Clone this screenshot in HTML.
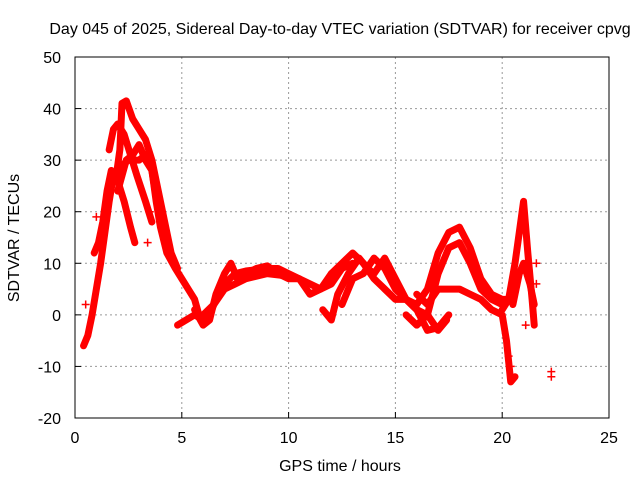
<!DOCTYPE html>
<html><head><meta charset="utf-8"><style>
body{margin:0;background:#fff}
svg text{font-family:"Liberation Sans",sans-serif;font-size:16px;fill:#000}
</style></head><body>
<svg id="chart" width="640" height="480" xmlns="http://www.w3.org/2000/svg">
<text x="340" y="34" text-anchor="middle">Day 045 of 2025, Sidereal Day-to-day VTEC variation (SDTVAR) for receiver cpvg</text>
<text x="340" y="471" text-anchor="middle">GPS time / hours</text>
<text transform="translate(19,238) rotate(-90)" text-anchor="middle">SDTVAR / TECUs</text>
<g id="grid"></g><g id="ticks"></g><g id="series"></g>
<rect x="75" y="57" width="534" height="361" fill="none" stroke="#000" stroke-width="1"/>
</svg>
<script>
const xTicks=[0,5,10,15,20,25];
const yTicks=[-20,-10,0,10,20,30,40,50];
const curveA=[[0.4,-6],[0.6,-4],[0.8,0],[1.0,5],[1.2,10],[1.4,16],[1.6,22],[1.8,27],[2.0,28],[2.2,29],[2.5,30],[3.0,30],[3.3,31],[3.6,28],[3.8,22],[4.0,17],[4.3,12],[4.7,9],[5.0,7],[5.3,5],[5.6,3],[5.8,0],[6.0,-1],[6.3,0],[6.6,3],[7.0,6],[7.5,8],[8.0,8.5],[9,9],[9.5,9],[10,8],[10.5,7],[11,6],[11.5,5],[12,6],[12.5,9],[13,10]];
const curveA2=[[0.9,12],[1.1,14],[1.3,18],[1.5,24],[1.7,28],[2.0,26],[2.3,22],[2.6,17],[2.8,14]];
const curveB=[[1.9,26],[2.1,32],[2.2,41],[2.4,41.5],[2.7,38],[3.0,36],[3.3,34],[3.6,30],[3.9,24],[4.2,18],[4.5,12],[4.8,9]];
const curveC=[[1.6,32],[1.8,36],[2.0,37],[2.3,35],[2.6,31],[2.9,27],[3.3,22],[3.6,18]];
const curveC2=[[2.0,24],[2.4,30],[2.7,31],[3.0,33],[3.3,30],[3.6,28],[3.9,20]];
const curveM=[[5.6,1],[6.0,-2],[6.3,-1],[6.6,4],[7.0,8],[7.3,10],[7.6,7],[8,8],[8.5,9],[9,9.5],[9.5,8],[10,7],[10.5,7],[11,4],[11.5,5],[12,8]];
const curveM2=[[6.0,0],[6.5,2],[7,5],[7.5,6],[8,7],[9,8],[10,7.5]];
const curveL=[[4.8,-2],[5.2,-1],[5.6,0],[6.0,-1]];
const curveD=[[11.6,1],[12,-1],[12.3,4],[12.8,8],[13.3,11],[13.7,9],[14,8],[14.5,11],[15,7],[15.5,3],[16,1],[16.5,0],[17,-3],[17.4,-1]];
const curveE=[[12.5,2],[13,7],[13.5,8],[14,11],[14.5,9],[15,5],[15.5,3],[16,1],[16.5,-3],[17,-2.5],[17.5,0]];
const curveF=[[12,8],[12.5,10],[13,12],[13.5,10],[14,7],[14.5,5],[15,3],[15.5,3],[16,2],[16.5,5],[17,12],[17.5,16],[18,17],[18.5,13],[19,7],[19.5,4],[20,3],[20.5,3]];
const curveG=[[15.5,0],[16,-2],[16.5,0],[17,8],[17.5,13],[18,14],[18.5,10],[19,5],[19.5,3],[20,2]];
const curveH=[[16,4],[16.5,2],[17,5],[17.5,5],[18,5],[18.5,4],[19,3],[19.5,1],[20,0],[20.2,-5],[20.4,-13],[20.6,-12]];
const curveI=[[20,1],[20.3,3],[20.6,10],[20.8,16],[21,22],[21.2,12],[21.4,3],[21.5,-2]];
const curveJ=[[20.5,2],[20.8,8],[21,10],[21.3,6],[21.5,2]];
const isolated=[[22.3,-12],[22.3,-11],[0.5,2],[1.0,19],[3.4,14],[3.5,20],[21.6,10],[21.6,6],[21.1,-2],[20.3,-8],[20.4,-10]];
const allCurves=[curveA,curveA2,curveB,curveC,curveC2,curveM,curveM2,curveL,curveD,curveE,curveF,curveG,curveH,curveI,curveJ];
const NS="http://www.w3.org/2000/svg";
const X=h=>75+h*534/25, Y=v=>57+(50-v)*361/70;
const grid=document.getElementById('grid'),ticks=document.getElementById('ticks'),ser=document.getElementById('series');
function mk(tag,attrs,parent){const e=document.createElementNS(NS,tag);for(const k in attrs)e.setAttribute(k,attrs[k]);parent.appendChild(e);return e;}
xTicks.forEach(t=>{
  if(t>0&&t<25){const g=mk('line',{x1:X(t),x2:X(t),y1:57,y2:418,stroke:'#999','stroke-dasharray':'2,3'},grid);
  
  }
  const tl=mk('text',{x:X(t),y:443,'text-anchor':'middle'},ticks);tl.textContent=t;
  
  
  mk('line',{x1:X(t),x2:X(t),y1:418,y2:412,stroke:'#000'},ticks);
});
yTicks.forEach(t=>{
  if(t>-20&&t<50){const g=mk('line',{x1:75,x2:609,y1:Y(t),y2:Y(t),stroke:'#999','stroke-dasharray':'2,3'},grid);
  
  }
  const tl=mk('text',{x:61,y:Y(t)+6,'text-anchor':'end'},ticks);tl.textContent=t;
  
  
  mk('line',{x1:75,x2:81,y1:Y(t),y2:Y(t),stroke:'#000'},ticks);
});
allCurves.forEach(c=>{
  const p=mk('polyline',{points:c.map(d=>X(d[0])+','+Y(d[1])).join(' '),fill:'none',stroke:'#f00','stroke-width':7,'stroke-linejoin':'round','stroke-linecap':'round'},ser);
  
  
});
isolated.forEach(d=>{
  const m=mk('path',{d:`M${X(d[0])-4},${Y(d[1])}h8M${X(d[0])},${Y(d[1])-4}v8`,stroke:'#f00','stroke-width':1.5},ser);
  
  
});
</script>
</body></html>
